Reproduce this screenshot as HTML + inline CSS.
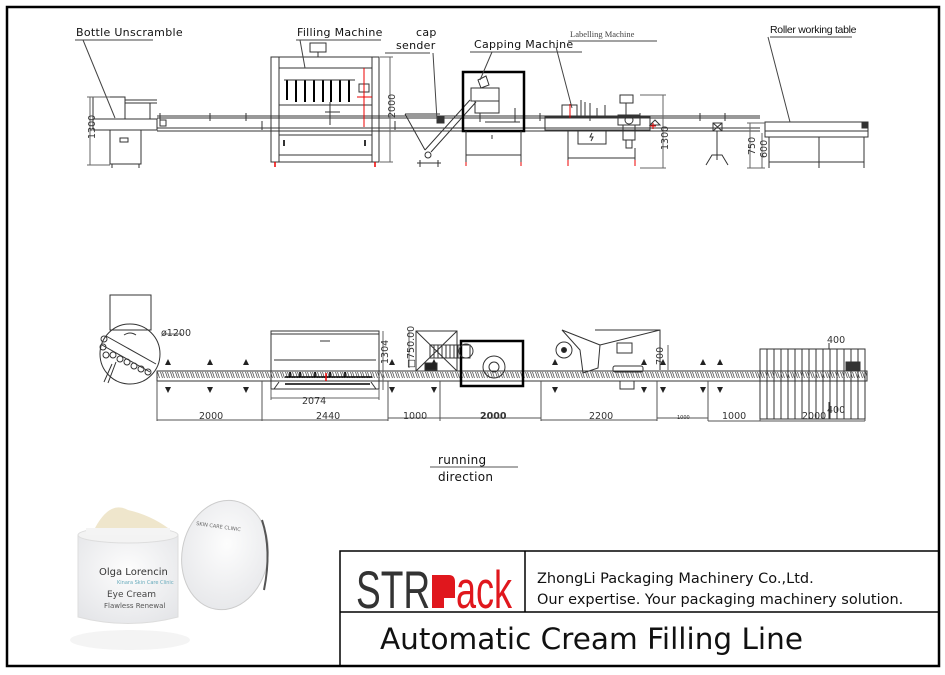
<!DOCTYPE html>
<html><head><meta charset="utf-8"><style>
html,body{margin:0;padding:0;background:#fff;width:945px;height:675px;overflow:hidden}
svg{display:block}
.l{font-family:"DejaVu Sans","Liberation Sans",sans-serif;font-size:11px;fill:#111;letter-spacing:0.3px}
.d{font-family:"DejaVu Sans","Liberation Sans",sans-serif;font-size:9.5px;fill:#333}
</style></head><body>
<svg width="945" height="675" viewBox="0 0 945 675" xmlns="http://www.w3.org/2000/svg">
<defs>
<pattern id="ch" width="5" height="10" patternUnits="userSpaceOnUse">
<rect width="5" height="10" fill="#fff"/>
<path d="M0.5 2 L2.5 8 M2.5 2 L4.5 8" stroke="#555" stroke-width="0.8"/>
</pattern>
<radialGradient id="jar" cx="0.5" cy="0.4" r="0.7"><stop offset="0" stop-color="#fdfdfd"/><stop offset="1" stop-color="#e4e5e8"/></radialGradient>
</defs>
<rect x="7" y="7" width="932" height="659" fill="none" stroke="#000" stroke-width="2.5"/>

<g fill="none" stroke="#333" stroke-width="1">
<rect x="93" y="119" width="64" height="11"/>
<rect x="93" y="97" width="32" height="22"/>
<path d="M125 100 H157 M125 103 H157 M150 103 V119"/>
<rect x="110" y="130" width="31" height="34"/>
<rect x="120" y="138" width="8" height="4"/>
<path d="M112 164 V168 M139 164 V168"/>
<path d="M90 97 V165 M87 97 H110 M87 165 H110" stroke="#666"/>
<path d="M157 116 H760 M157 118 H760 M157 128 H760 M157 131 H760"/>
<path d="M160 113 V121 M210 113 V121 M246 113 V121 M390 113 V121 M540 113 V121 M590 113 V121 M640 113 V121 M700 113 V121 M725 113 V121 M262 121 V130 M395 121 V130"/>
<rect x="160" y="120" width="6" height="6"/>
<rect x="271" y="57" width="108" height="105"/>
<path d="M279 57 V162 M372 57 V162 M279 68 H372 M279 105 H372 M279 135 H372 M279 155 H372"/>
<rect x="310" y="43" width="16" height="9"/><path d="M318 52 V57"/>
<g stroke="#000" stroke-width="2">
<path d="M287 80 v20 M296 80 v22 M305 80 v22 M314 80 v22 M323 80 v22 M331 80 v22 M340 80 v22 M349 80 v22"/>
</g>
<path d="M284 80 H355 M330 102 V125 M325 112 H340"/>
<rect x="359" y="84" width="10" height="8"/>
<path d="M364 68 V127 M357 97 H372" stroke="#e00"/>
<path d="M284 140 v6 M365 140 v6" stroke-width="2"/>
<path d="M275 162 v5 M375 162 v5" stroke="#e00" stroke-width="1.5"/>
<path d="M390 57 V162 M380 57 H393 M380 162 H393" stroke="#666"/>
<path d="M405 114 L425 150 M425 150 L470 100 M431 152 L476 102 M405 114 H440"/>
<rect x="437" y="117" width="7" height="6" fill="#333"/>
<circle cx="428" cy="155" r="3"/>
<path d="M417 163 H441 M420 160 V167 M438 160 V167"/>
<rect x="463" y="72" width="61" height="59" stroke="#000" stroke-width="2.5"/>
<rect x="471" y="88" width="28" height="13"/>
<path d="M478 80 L486 76 L489 85 L481 88 Z"/>
<rect x="475" y="101" width="24" height="12"/>
<path d="M480 113 V122 M485 122 H520 M515 108 v14"/>
<path d="M466 131 V162 M521 131 V162 M466 155 H521 M492 135 v4"/>
<path d="M466 162 v4 M521 162 v4" stroke="#e00"/>
<rect x="545" y="117" width="105" height="13"/>
<rect x="562" y="105" width="15" height="12"/>
<path d="M581 100 V117 M585 102 V117 M590 103 V117 M597 108 V117 M605 105 V117"/>
<path d="M570 104 V118" stroke="#e00"/>
<rect x="578" y="130" width="28" height="14"/><path d="M592 133 l-2 4 h3 l-2 4"/>
<rect x="618" y="115" width="22" height="10"/><circle cx="629" cy="120" r="4"/>
<rect x="620" y="95" width="13" height="8"/><path d="M626 103 V115"/>
<path d="M623 125 V140 H635 V125 M626 140 V148 H632 V140"/>
<path d="M568 130 V160 M635 148 V160 M568 158 H635 M655 120 l-5 5 h10 z"/>
<path d="M568 160 v6 M635 160 v6" stroke="#e00"/>
<path d="M650 126 h6 M653 123 v6" stroke="#e00"/>
<path d="M663 95 V168 M640 95 H666 M640 168 H666" stroke="#666"/>
<rect x="713" y="123" width="9" height="8"/><path d="M713 123 l9 8 M722 123 l-9 8"/>
<path d="M717 131 V155 M706 165 L712 155 H722 L728 165 M717 155 v5"/>
<rect x="765" y="122" width="103" height="9"/>
<rect x="765" y="131" width="103" height="6"/>
<path d="M769 137 V168 M819 137 V168 M864 137 V168 M769 162 H864"/>
<path d="M750 123 V168 M747 123 H765 M747 168 H765 M762 133 V168" stroke="#666"/>
<rect x="862" y="123" width="5" height="5" fill="#333"/>

<path d="M75 40 H153 M83 40 L115 118" stroke="#444"/>
<path d="M296 40 H381 M300 40 L305 68" stroke="#444"/>
<path d="M385 53 H430 M433 53 L437 120" stroke="#444"/>
<path d="M470 52 H582 M492 52 L480 80" stroke="#444"/>
<path d="M568 41 H657 M556 47 L572 108" stroke="#444"/>
<path d="M770 37 H852 M768 37 L790 122" stroke="#444"/>

<rect x="110" y="295" width="41" height="35"/>
<circle cx="130" cy="354" r="30"/>
<path d="M106 336 L156 364 M102 345 L150 372 M116 362 L108 383 M112 364 L104 382 M124 335 q6 -4 12 0"/>
<g>
<circle cx="104" cy="339" r="3"/><circle cx="103" cy="347" r="3"/><circle cx="106" cy="355" r="3"/><circle cx="113" cy="355" r="3"/><circle cx="120" cy="359" r="3"/><circle cx="127" cy="362" r="3"/><circle cx="134" cy="366" r="3"/><circle cx="141" cy="369" r="3"/><circle cx="148" cy="372" r="3"/>
</g>
<path d="M163 334 H182" stroke="#666"/>
<rect x="157" y="371" width="710" height="10" fill="url(#ch)"/>
<path d="M157 371 H867 M157 381 H867"/>
<rect x="271" y="331" width="108" height="58"/>
<path d="M271 334 H379 M274 360 H376 M274 389 L279 382 M376 389 L371 382 M320 341 h10"/>
<path d="M285 377 H372 M285 384 H370 M290 372 v5 M300 372 v5 M315 372 v5 M330 372 v5 M345 372 v5" stroke="#000" stroke-width="1.6"/>
<path d="M326 373 v8" stroke="#e00" stroke-width="1.5"/>
<path d="M271 389 V400 M379 389 V400 M271 398 H379 M383 331 V390" stroke="#666"/>
<rect x="416" y="331" width="41" height="40"/><path d="M416 331 L457 371 M457 331 L416 371"/>
<rect x="430" y="345" width="40" height="13"/>
<path d="M434 345 v13 M438 345 v13 M442 345 v13 M446 345 v13 M450 345 v13 M454 345 v13 M458 345 v13"/>
<rect x="425" y="363" width="12" height="7" fill="#222"/>
<rect x="461" y="341" width="62" height="45" stroke="#000" stroke-width="2.5"/>
<circle cx="494" cy="367" r="11"/><circle cx="494" cy="367" r="5"/><circle cx="466" cy="351" r="7"/>
<path d="M409 331 V368" stroke="#666"/>
<path d="M562 330 L600 345 L598 368 L583 373 L580 350 Z M600 345 L660 330 M595 330 H660 V370 M660 335 V370"/>
<circle cx="564" cy="350" r="8"/><circle cx="564" cy="350" r="2.5" fill="#222"/>
<rect x="617" y="343" width="15" height="10"/>
<rect x="613" y="366" width="30" height="6" rx="2"/>
<path d="M620 381 v8 h14 v-8"/>
<path d="M668 345 V370" stroke="#666"/>
<rect x="760" y="349" width="105" height="70"/>
<path d="M767 349 V419 M774 349 V419 M781 349 V419 M788 349 V419 M795 349 V419 M802 349 V419 M809 349 V419 M816 349 V419 M823 349 V419 M830 349 V419 M837 349 V419 M844 349 V419 M851 349 V419 M858 349 V419"/>
<rect x="846" y="362" width="14" height="9" fill="#333"/>
<path d="M829 343 V349 M829 419 V402"/>
<g fill="#222" stroke="none">
<path d="M165 365 l3 -6 l3 6 z M165 387 l3 6 l3 -6 z"/>
<path d="M207 365 l3 -6 l3 6 z M207 387 l3 6 l3 -6 z"/>
<path d="M243 365 l3 -6 l3 6 z M243 387 l3 6 l3 -6 z"/>
<path d="M389 365 l3 -6 l3 6 z M389 387 l3 6 l3 -6 z"/>
<path d="M431 365 l3 -6 l3 6 z M431 387 l3 6 l3 -6 z"/>
<path d="M552 365 l3 -6 l3 6 z M552 387 l3 6 l3 -6 z"/>
<path d="M641 365 l3 -6 l3 6 z M641 387 l3 6 l3 -6 z"/>
<path d="M660 365 l3 -6 l3 6 z M660 387 l3 6 l3 -6 z"/>
<path d="M700 365 l3 -6 l3 6 z M700 387 l3 6 l3 -6 z"/>
<path d="M717 365 l3 -6 l3 6 z M717 387 l3 6 l3 -6 z"/>
</g>
<path d="M157 381 V421 M262 381 V421 M388 381 V421 M440 381 V421 M541 381 V421 M657 381 V421 M708 381 V421 M760 419 V421 M865 419 V421" stroke="#555"/>
<path d="M157 420 H388 M388 418 H440 M440 418 H541 M541 420 H657 M657 418 H708 M708 421 H760 M760 421 H865" stroke="#555"/>
<path d="M430 467 H518" stroke="#555"/>
</g>

<text class="l" x="76" y="36">Bottle Unscramble</text>
<text class="l" x="297" y="36">Filling Machine</text>
<text class="l" x="416" y="36">cap</text>
<text class="l" x="396" y="49">sender</text>
<text class="l" x="474" y="48">Capping Machine</text>
<text x="570" y="37" style="font-family:'Liberation Serif',serif;font-size:8.5px;fill:#444">Labelling Machine</text>
<text x="770" y="33" style="font-family:'Liberation Sans',sans-serif;font-size:10.5px;fill:#111;letter-spacing:-0.3px">Roller working table</text>

<text class="d" transform="translate(95 139) rotate(-90)">1300</text>
<text class="d" transform="translate(395 118) rotate(-90)">2000</text>
<text class="d" transform="translate(668 150) rotate(-90)">1300</text>
<text class="d" transform="translate(755 155) rotate(-90)">750</text>
<text class="d" transform="translate(767 158) rotate(-90)">600</text>
<text class="d" x="161" y="336">ø1200</text>
<text class="d" transform="translate(388 364) rotate(-90)">1304</text>
<text class="d" transform="translate(414 368) rotate(-90)">□750.00</text>
<text class="d" transform="translate(663 365) rotate(-90)">700</text>
<text class="d" x="302" y="404">2074</text>
<text class="d" x="199" y="419">2000</text>
<text class="d" x="316" y="419">2440</text>
<text class="d" x="403" y="419">1000</text>
<text class="d" x="480" y="419" style="font-weight:bold">2000</text>
<text class="d" x="589" y="419">2200</text>
<text class="d" x="677" y="419" style="font-size:5px">1000</text>
<text class="d" x="722" y="419">1000</text>
<text class="d" x="802" y="419">2000</text>
<text class="d" x="827" y="343">400</text>
<text class="d" x="827" y="413">400</text>
<text class="l" x="438" y="464" style="font-size:12px">running</text>
<text class="l" x="438" y="481" style="font-size:12px">direction</text>

<g>
<ellipse cx="225" cy="555" rx="43" ry="55" fill="url(#jar)" stroke="#ccc" transform="rotate(10 225 555)"/>
<path d="M262 520 q10 30 2 70" stroke="#555" stroke-width="2" fill="none"/>
<path d="M78 535 H178 V617 Q128 630 78 617 Z" fill="url(#jar)" stroke="#ddd"/>
<ellipse cx="128" cy="535" rx="50" ry="8" fill="#f3f3f3" stroke="#ddd"/>
<path d="M86 528 H170 V535 H86 Z" fill="#f4f4f4"/>
<path d="M95 528 Q110 500 128 510 Q150 515 168 528 Z" fill="#efe6cc"/>
<ellipse cx="130" cy="640" rx="60" ry="10" fill="#f4f4f4"/>
<text x="99" y="575" style="font-family:'DejaVu Sans',sans-serif;font-size:10px;fill:#333">Olga Lorencin</text>
<text x="117" y="584" style="font-family:'DejaVu Sans',sans-serif;font-size:5px;fill:#6ab">Kinara Skin Care Clinic</text>
<text x="107" y="597" style="font-family:'DejaVu Sans',sans-serif;font-size:9px;fill:#444">Eye Cream</text>
<text x="104" y="608" style="font-family:'DejaVu Sans',sans-serif;font-size:7px;fill:#555">Flawless Renewal</text>
<text x="196" y="525" style="font-family:'DejaVu Sans',sans-serif;font-size:5px;fill:#666" transform="rotate(8 196 525)">SKIN CARE CLINIC</text>
</g>

<g fill="none" stroke="#000" stroke-width="1.5">
<rect x="340" y="551" width="599" height="115"/>
<path d="M525 551 V612 M340 612 H939"/>
</g>
<text x="356" y="608" style="font-family:'Liberation Sans',sans-serif;font-size:53px;fill:#333" transform="translate(356 0) scale(0.7 1) translate(-356 0)">STR</text>
<path d="M432 575 H449 Q455 575 455 582 V598 H444 V608 H432 Z" fill="#e0171d"/>
<text x="456" y="608" style="font-family:'Liberation Sans',sans-serif;font-size:53px;fill:#e0171d" transform="translate(456 0) scale(0.68 1) translate(-456 0)">ack</text>
<text x="537" y="583" style="font-family:'DejaVu Sans','Liberation Sans',sans-serif;font-size:14.5px;fill:#111">ZhongLi Packaging Machinery Co.,Ltd.</text>
<text x="537" y="604" style="font-family:'DejaVu Sans','Liberation Sans',sans-serif;font-size:14.5px;fill:#111">Our expertise. Your packaging machinery solution.</text>
<text x="380" y="649" style="font-family:'DejaVu Sans','Liberation Sans',sans-serif;font-size:29.5px;fill:#111">Automatic Cream Filling Line</text>
</svg>
</body></html>
